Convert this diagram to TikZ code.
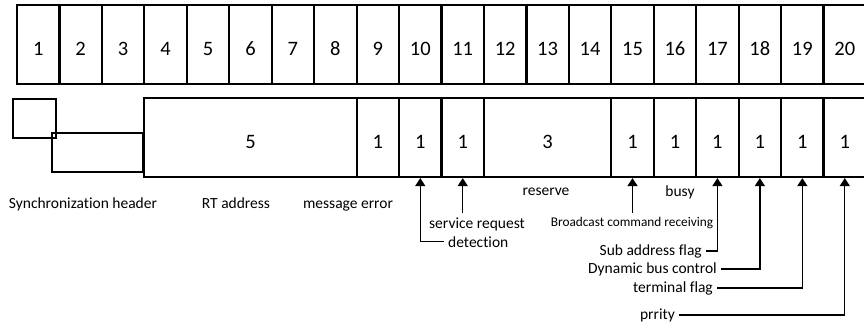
\documentclass[tikz,border=0pt]{standalone}
\usepackage{fontspec}
\setmainfont{Carlito}[Ligatures=NoCommon]
\usetikzlibrary{arrows.meta}

\begin{document}
\begin{tikzpicture}[x=1pt,y=-1pt,
		bitcell/.style={draw,line width=2.2pt,inner sep=0pt,minimum height=79pt,text height=21pt,text depth=0pt,font=\fontsize{20.5}{24}\selectfont},
		fieldlabel/.style={inner sep=4pt,font=\fontsize{15.5}{18}\selectfont},
		flagarrow/.style={line width=1.4pt,-{Triangle[width=10pt,length=8pt]}}]
		\useasboundingbox (0,0) rectangle (864,325);
		\clip (0,0) rectangle (864,325);
		\foreach \i in {1,...,20}{
			\node[bitcell,minimum width=42.45pt] (t\i) at ({17+(\i-0.5)*42.45},44.5) {\i};
		}
		\foreach \a/\b/\v in {4/8/5,9/9/1,10/10/1,11/11/1,12/14/3,15/15/1,16/16/1,17/17/1,18/18/1,19/19/1,20/20/1}{
			\node[bitcell,minimum width={(\b-\a+1)*42.45pt}] (f\a) at ({17+(\a+\b-1)/2*42.45},137.5) {\v};
		}
		\draw[line width=2.2pt] (13,99) rectangle (56,138);
		\draw[line width=2.2pt] (52,133) rectangle (f4.west |- 0,172);
		\node[fieldlabel,anchor=base] (sync) at (83,208) {Synchronization header};
		\node[fieldlabel,anchor=base] (rt) at (236,208) {RT address};
		\node[fieldlabel,anchor=base] (msgerr) at (348,208) {message error};
		\node[fieldlabel,anchor=base] (reserve) at (546,195) {reserve};
		\node[fieldlabel,anchor=base] (busy) at (680,196) {busy};
		\node[fieldlabel,anchor=base,font=\fontsize{13.3}{16}\selectfont] (bcast) at (632,226) {Broadcast command receiving};
		\node[fieldlabel,anchor=base] (srvreq) at (477,228) {service request};
		\node[fieldlabel,anchor=base west] (detect) at (444,247) {detection};
		\node[fieldlabel,anchor=base east] (subaddr) at (706,255) {Sub address flag};
		\node[fieldlabel,anchor=base east] (dynbus) at (721,273) {Dynamic bus control};
		\node[fieldlabel,anchor=base east] (term) at (717,292) {terminal flag};
		\node[fieldlabel,anchor=base east] (prio) at (679,319) {prrity};
		\draw[flagarrow] (srvreq.north -| f11.south) -- (f11.south);
		\draw[flagarrow] (bcast.north -| f15.south) -- (f15.south);
		\draw[flagarrow] (detect.west) -| (f10.south);
		\draw[flagarrow] (subaddr.east) -| (f17.south);
		\draw[flagarrow] (dynbus.east) -| (f18.south);
		\draw[flagarrow] (term.east) -| (f19.south);
		\draw[flagarrow] (prio.east) -| (f20.south);
	\end{tikzpicture}
\end{document}
